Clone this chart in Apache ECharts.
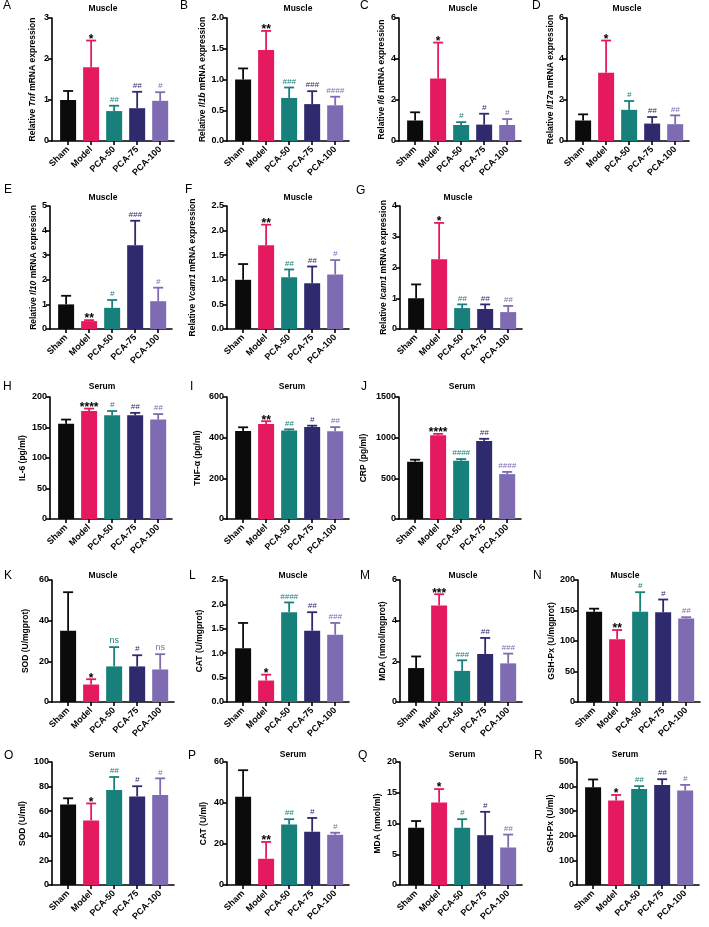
<!DOCTYPE html>
<html>
<head>
<meta charset="utf-8">
<script src="https://cdn.jsdelivr.net/npm/echarts@6/dist/echarts.min.js"></script>
<style>
  html, body { margin: 0; padding: 0; background: #fff; }
  #chart { width: 709px; height: 927px; }
</style>
</head>
<body>
<div id="chart"></div>
<script>
const groups = ['Sham', 'Model', 'PCA-50', 'PCA-75', 'PCA-100'];
const groupColors = ['#0b0b0b', '#e5195f', '#18807a', '#2f2a6e', '#7f6bb1'];

// muscle mRNA (relative expression)
const tnfMean = [1.0, 1.8, 0.73, 0.8, 0.98];
const tnfSd = [0.22, 0.65, 0.13, 0.4, 0.21];
const tnfSig = ['', '*', '##', '##', '#'];
const il1bMean = [1.0, 1.48, 0.70, 0.60, 0.58];
const il1bSd = [0.18, 0.31, 0.17, 0.21, 0.14];
const il1bSig = ['', '**', '###', '###', '####'];
const il6Mean = [1.0, 3.05, 0.78, 0.8, 0.78];
const il6Sd = [0.4, 1.75, 0.14, 0.53, 0.29];
const il6Sig = ['', '*', '#', '#', '#'];
const il17aMean = [1.0, 3.33, 1.52, 0.85, 0.82];
const il17aSd = [0.3, 1.57, 0.43, 0.32, 0.43];
const il17aSig = ['', '*', '#', '##', '##'];
const il10Mean = [1.0, 0.32, 0.86, 3.4, 1.13];
const il10Sd = [0.35, 0.04, 0.32, 1.0, 0.55];
const il10Sig = ['', '**', '#', '###', '#'];
const vcam1Mean = [1.0, 1.70, 1.05, 0.93, 1.11];
const vcam1Sd = [0.32, 0.42, 0.16, 0.34, 0.29];
const vcam1Sig = ['', '**', '##', '##', '#'];
const icam1Mean = [1.0, 2.27, 0.68, 0.65, 0.55];
const icam1Sd = [0.45, 1.18, 0.12, 0.15, 0.2];
const icam1Sig = ['', '*', '##', '##', '##'];

// serum cytokines (pg/ml)
const serumIl6Mean = [156, 177, 170, 170, 163];
const serumIl6Sd = [7, 4, 7, 4, 9];
const serumIl6Sig = ['', '****', '#', '##', '##'];
const serumTnfMean = [433, 467, 435, 452, 432];
const serumTnfSd = [18, 14, 6, 7, 20];
const serumTnfSig = ['', '**', '##', '#', '##'];
const crpMean = [705, 1030, 715, 960, 552];
const crpSd = [24, 17, 22, 26, 27];
const crpSig = ['', '****', '####', '##', '####'];

// muscle oxidative stress
const musSodMean = [35, 8.6, 17.5, 17.5, 16];
const musSodSd = [19, 2.6, 9.5, 5.5, 7.5];
const musSodSig = ['', '*', 'ns', '#', 'ns'];
const musCatMean = [1.1, 0.44, 1.84, 1.46, 1.38];
const musCatSd = [0.52, 0.12, 0.2, 0.38, 0.24];
const musCatSig = ['', '*', '####', '##', '###'];
const musMdaMean = [1.67, 4.75, 1.53, 2.36, 1.9];
const musMdaSd = [0.57, 0.55, 0.52, 0.79, 0.48];
const musMdaSig = ['', '***', '###', '##', '###'];
const musGshMean = [148, 103, 148, 147, 137];
const musGshSd = [5, 15, 32, 21, 2];
const musGshSig = ['', '**', '#', '#', '##'];

// serum oxidative stress
const serSodMean = [65.5, 52.5, 77.3, 72, 73.2];
const serSodSd = [5, 13.8, 10.5, 8.3, 13.5];
const serSodSig = ['', '*', '##', '#', '#'];
const serCatMean = [43, 12.8, 29.5, 26, 24.5];
const serCatSd = [13, 8.2, 2.6, 6.7, 1];
const serCatSig = ['', '**', '##', '#', '#'];
const serMdaMean = [9.3, 13.4, 9.3, 8.1, 6.1];
const serMdaSd = [1.1, 2.2, 1.4, 3.8, 2.1];
const serMdaSig = ['', '*', '#', '#', '##'];
const serGshMean = [397, 343, 390, 407, 384];
const serGshSd = [32, 23, 12, 23, 23];
const serGshSig = ['', '*', '##', '##', '#'];

const tickLabels = {
  A: [0, 1, 2, 3], B: [0, 0.5, 1, 1.5, 2], C: [0, 2, 4, 6], D: [0, 2, 4, 6],
  E: [0, 1, 2, 3, 4, 5], F: [0, 0.5, 1, 1.5, 2, 2.5], G: [0, 1, 2, 3, 4],
  H: [0, 50, 100, 150, 200], I: [0, 200, 400, 600], J: [0, 500, 1000, 1500],
  K: [0, 20, 40, 60], L: [0, 0.5, 1, 1.5, 2, 2.5], M: [0, 2, 4, 6], N: [0, 50, 100, 150, 200],
  O: [0, 20, 40, 60, 80, 100], P: [0, 20, 40, 60], Q: [0, 5, 10, 15, 20], R: [0, 100, 200, 300, 400, 500],
};

const panels = [
  { key: 'A', title: 'Muscle', gene: 'Tnf', mean: tnfMean, sd: tnfSd, sig: tnfSig },
  { key: 'B', title: 'Muscle', gene: 'Il1b', mean: il1bMean, sd: il1bSd, sig: il1bSig, dec: 1 },
  { key: 'C', title: 'Muscle', gene: 'Il6', mean: il6Mean, sd: il6Sd, sig: il6Sig },
  { key: 'D', title: 'Muscle', gene: 'Il17a', mean: il17aMean, sd: il17aSd, sig: il17aSig },
  { key: 'E', title: 'Muscle', gene: 'Il10', mean: il10Mean, sd: il10Sd, sig: il10Sig },
  { key: 'F', title: 'Muscle', gene: 'Vcam1', mean: vcam1Mean, sd: vcam1Sd, sig: vcam1Sig, dec: 1 },
  { key: 'G', title: 'Muscle', gene: 'Icam1', mean: icam1Mean, sd: icam1Sd, sig: icam1Sig },
  { key: 'H', title: 'Serum', label: 'IL-6 (pg/ml)', mean: serumIl6Mean, sd: serumIl6Sd, sig: serumIl6Sig },
  { key: 'I', title: 'Serum', label: 'TNF-α (pg/ml)', mean: serumTnfMean, sd: serumTnfSd, sig: serumTnfSig },
  { key: 'J', title: 'Serum', label: 'CRP (pg/ml)', mean: crpMean, sd: crpSd, sig: crpSig },
  { key: 'K', title: 'Muscle', label: 'SOD (U/mgprot)', mean: musSodMean, sd: musSodSd, sig: musSodSig },
  { key: 'L', title: 'Muscle', label: 'CAT (U/mgprot)', mean: musCatMean, sd: musCatSd, sig: musCatSig, dec: 1 },
  { key: 'M', title: 'Muscle', label: 'MDA (nmol/mgprot)', mean: musMdaMean, sd: musMdaSd, sig: musMdaSig },
  { key: 'N', title: 'Muscle', label: 'GSH-Px (U/mgprot)', mean: musGshMean, sd: musGshSd, sig: musGshSig },
  { key: 'O', title: 'Serum', label: 'SOD (U/ml)', mean: serSodMean, sd: serSodSd, sig: serSodSig },
  { key: 'P', title: 'Serum', label: 'CAT (U/ml)', mean: serCatMean, sd: serCatSd, sig: serCatSig },
  { key: 'Q', title: 'Serum', label: 'MDA (nmol/ml)', mean: serMdaMean, sd: serMdaSd, sig: serMdaSig },
  { key: 'R', title: 'Serum', label: 'GSH-Px (U/ml)', mean: serGshMean, sd: serGshSd, sig: serGshSig },
];

// [gridLeft, gridTop, gridHeight, titleX, titleY, letterX, letterY, nameCenterX]
const layout = {
  A: [52, 18, 123, 103, 9, 3, 6, 32],
  B: [227, 18, 123, 298, 9, 180, 6, 206],
  C: [399, 18, 123, 463, 9, 360, 6, 381],
  D: [567, 18, 123, 627, 9, 532, 6, 554],
  E: [50, 206, 123, 103, 198, 4, 190, 33],
  F: [227, 206, 123, 298, 198, 185, 190, 192],
  G: [400, 206, 123, 458, 198, 356, 191, 387],
  H: [50, 397, 122, 102, 387, 3, 387, 22],
  I: [227, 397, 122, 292, 387, 190, 387, 197],
  J: [399, 397, 122, 462, 387, 361, 387, 363],
  K: [52, 580, 122, 103, 576, 4, 576, 25],
  L: [227, 580, 122, 293, 576, 189, 576, 199],
  M: [400, 580, 122, 463, 576, 360, 576, 382],
  N: [578, 580, 122, 625, 576, 533, 576, 552],
  O: [52, 762, 123, 102, 755, 4, 756, 22],
  P: [227, 762, 123, 293, 755, 188, 756, 203],
  Q: [400, 762, 123, 462, 755, 358, 756, 377],
  R: [577, 762, 123, 625, 755, 534, 756, 551],
};

const FONT = '"Liberation Sans", Arial, sans-serif';
const grid = [], xAxis = [], yAxis = [], series = [], graphic = [];

panels.forEach((p, i) => {
  const [left, top, height, tx, ty, lx, ly, nx] = layout[p.key];
  const ticks = tickLabels[p.key];
  const max = ticks[ticks.length - 1];
  const step = ticks[1] - ticks[0];
  grid.push({ left, top, width: 122, height });

  xAxis.push({
    gridIndex: i, type: 'value', min: -0.7, max: 4.6,
    axisLine: { show: true, onZero: false, lineStyle: { color: '#000', width: 1.6 } },
    axisTick: { show: true, length: 4, customValues: [0, 1, 2, 3, 4], lineStyle: { color: '#000', width: 1.6 } },
    axisLabel: {
      customValues: [0, 1, 2, 3, 4], formatter: (v) => groups[Math.round(v)],
      rotate: 45, fontSize: 9, fontWeight: 'bold', color: '#000', margin: 7, fontFamily: FONT,
    },
    splitLine: { show: false },
  });

  const nameStyle = { fontSize: 8.5, fontWeight: 'bold', color: '#000', fontFamily: FONT };
  yAxis.push({
    gridIndex: i, type: 'value', min: 0, max, interval: step,
    axisLine: { show: true, onZero: false, lineStyle: { color: '#000', width: 1.6 } },
    axisTick: { show: true, length: 4, lineStyle: { color: '#000', width: 1.6 } },
    axisLabel: {
      fontSize: 9, fontWeight: 'bold', color: '#000', margin: 3, fontFamily: FONT,
      formatter: (v) => (p.dec ? v.toFixed(1) : String(v)),
    },
    splitLine: { show: false },
    name: p.gene ? `{n|Relative }{i|${p.gene}}{n| mRNA expression}` : p.label,
    nameLocation: 'middle', nameRotate: 90, nameGap: left - nx - 5,
    nameTextStyle: p.gene ? Object.assign({}, nameStyle, {
      rich: { n: nameStyle, i: Object.assign({}, nameStyle, { fontStyle: 'italic' }) },
    }) : nameStyle,
  });

  series.push({
    type: 'bar', xAxisIndex: i, yAxisIndex: i, barWidth: 16,
    data: p.mean.map((v, k) => ({ value: [k, v], itemStyle: { color: groupColors[k] } })),
    silent: true, animation: false,
  });

  series.push({
    type: 'custom', xAxisIndex: i, yAxisIndex: i, clip: false, silent: true, animation: false, z: 3,
    data: p.mean.map((v, k) => [k, v, p.sd[k]]),
    renderItem(params, api) {
      const k = params.dataIndex;
      const c = groupColors[k];
      const base = api.coord([api.value(0), api.value(1)]);
      const tip = api.coord([api.value(0), api.value(1) + api.value(2)]);
      const s = p.sig[k];
      const star = s.indexOf('*') >= 0;
      const children = [
        { type: 'line', shape: { x1: base[0], y1: base[1], x2: tip[0], y2: tip[1] }, style: { stroke: c, lineWidth: 1.8 } },
        { type: 'line', shape: { x1: tip[0] - 5, y1: tip[1], x2: tip[0] + 5, y2: tip[1] }, style: { stroke: c, lineWidth: 1.8 } },
      ];
      if (s) {
        children.push({
          type: 'text', x: tip[0], y: tip[1] + (star ? 5 : -2),
          style: {
            text: s, align: 'center', verticalAlign: 'bottom',
            fill: star ? '#000' : c,
            font: star ? `bold 12px ${FONT}` : (s === 'ns' ? `9px ${FONT}` : `italic 8px ${FONT}`),
          },
        });
      }
      return { type: 'group', children };
    },
  });

  graphic.push({
    type: 'text', x: tx, y: ty,
    style: { text: p.title, align: 'center', verticalAlign: 'middle', font: `bold 8.5px ${FONT}`, fill: '#000' },
  });
  graphic.push({
    type: 'text', x: lx, y: ly,
    style: { text: p.key, align: 'left', verticalAlign: 'middle', font: `12px ${FONT}`, fill: '#000' },
  });
});

const chart = echarts.init(document.getElementById('chart'), null, { renderer: 'canvas' });
chart.setOption({ animation: false, backgroundColor: '#fff', grid, xAxis, yAxis, series, graphic });
</script>
</body>
</html>
